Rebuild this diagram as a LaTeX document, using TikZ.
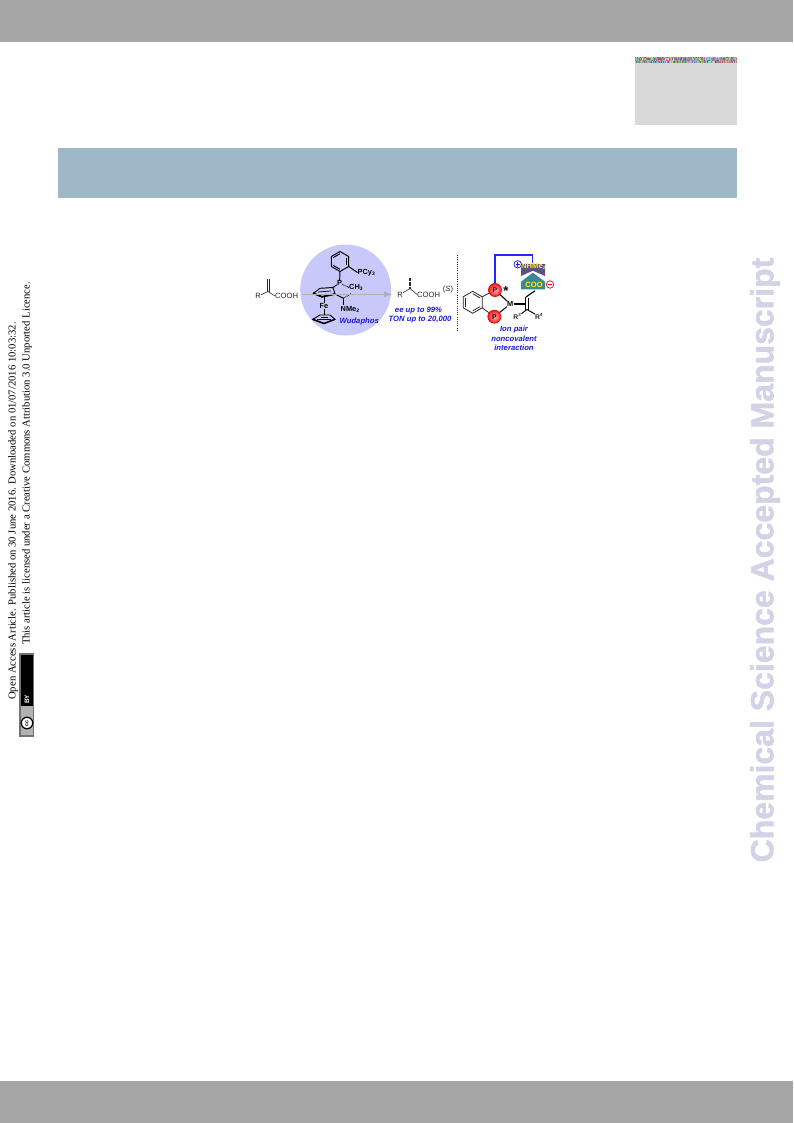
\documentclass[tikz,border=0pt]{standalone}
\usepackage{fontspec}
\setmainfont{Liberation Sans}
\newfontfamily\serifside{Liberation Serif}
\newfontfamily\wmfont[UprightFont=*,BoldFeatures={FakeBold=1.6}]{Liberation Sans}
\usetikzlibrary{arrows.meta,shapes.geometric}
\definecolor{barg}{HTML}{A6A6A6}
\definecolor{boxg}{HTML}{D9D9D9}
\definecolor{bandb}{HTML}{9FB8C7}
\definecolor{wmark}{HTML}{D3D3E7}
\definecolor{halo}{HTML}{C8C8FA}
\definecolor{chemblue}{HTML}{1A1AE6}
\definecolor{purp}{HTML}{5B4F8C}
\definecolor{teal2}{HTML}{3A8798}
\tikzset{
  atom/.style={inner sep=0pt,font=\fontsize{7.6}{8}\selectfont,text=black!85},
  batom/.style={inner sep=0pt,font=\bfseries\fontsize{7.4}{8}\selectfont},
  bond/.style={line width=0.6pt,black!85},
  hbond/.style={line width=0.95pt,black},
  hash/.style={line width=1.2pt,black,dash pattern=on 0.5pt off 0.9pt},
  note/.style={inner sep=0pt,align=center,text=chemblue,font=\bfseries\itshape\fontsize{7.7}{8.4}\selectfont},
  side/.style={inner sep=0pt,rotate=90,font=\serifside\fontsize{10.65}{11}\selectfont},
  redp/.style={circle,draw=red!90!black,line width=0.7pt,minimum size=13pt,inner sep=0pt,
    inner color=red!30,outer color=red!90},
  signc/.style={circle,draw,line width=0.7pt,minimum size=7.5pt,inner sep=0pt},
}
\begin{document}
\begin{tikzpicture}[x=1pt,y=-1pt]
\useasboundingbox (0,0) rectangle (793,1123);
% page furniture
\fill[barg] (0,0) rectangle (793,42);
\fill[barg] (0,1081) rectangle (793,1123);
\fill[boxg] (635,57) rectangle (737,125);
\pgfmathsetseed{7}
\foreach \i in {0,...,101}{
  \foreach \j in {0,1,2,3}{
    \pgfmathsetmacro{\ra}{int(random(0,100))}
    \pgfmathsetmacro{\rb}{int(random(0,100))}
    \pgfmathsetmacro{\rc}{int(random(0,100))}
    \definecolor{nz}{RGB}{\the\numexpr 90+\ra*13/10\relax,\the\numexpr 90+\rb*13/10\relax,\the\numexpr 90+\rc*13/10\relax}
    \fill[nz] (635+\i,57+1.4*\j) rectangle ++(1,1.4);
  }
}
\fill[bandb] (58,148) rectangle (737,198);
% watermark
\node[inner sep=0pt,rotate=90,text=wmark,font=\wmfont\bfseries\fontsize{32}{36}\selectfont] (wm) at (765,560) {Chemical Science Accepted Manuscript};
% side text
\node[side] (s1) at (13,511) {Open Access Article. Published on 30 June 2016. Downloaded on 01/07/2016 10:03:32.};
\node[side] (s2) at (27,463.5) {This article is licensed under a Creative Commons Attribution 3.0 Unported Licence.};
% cc badge
\fill[black!55] (19.3,652.7) rectangle (34.3,736.5);
\fill[black] (21,654.5) rectangle (32.8,706);
\fill[black!30] (21,706) rectangle (32.8,734.5);
\node[circle,draw=black,fill=white,line width=1.3pt,minimum size=11.5pt,inner sep=0pt,rotate=90,font=\bfseries\fontsize{5.4}{6}\selectfont] (cc) at (27,723) {cc};
\node[inner sep=0pt,rotate=90,text=white,font=\bfseries\fontsize{6.4}{7}\selectfont] (by) at (27,699.5) {BY};
% halo
\fill[halo] (345.7,290) circle (45.5);
% substrate
\node[atom] (r1) at (258,296) {R};
\node[atom,anchor=west] (cooh1) at (275,296) {COOH};
\coordinate (c1) at (268,291.5);
\coordinate (ch1) at (268,279);
\draw[bond] (r1) -- (c1) -- (cooh1.west);
\draw[bond] (267.1,291.5) -- (267.1,279) (268.9,291.5) -- (268.9,279);
% benzene of ligand
\foreach \a in {90,150,...,390}{\coordinate (lb\a) at ({340+10*cos(\a)},{261.5-10*sin(\a)});}
\draw[hbond] (lb90) -- (lb150) -- (lb210) -- (lb270) -- (lb330) -- (lb390) -- cycle;
\draw[hbond] ({340+7.8*cos(150)},{261.5-7.8*sin(150)}) -- ({340+7.8*cos(90)},{261.5-7.8*sin(90)});
\draw[hbond] ({340+7.8*cos(30)},{261.5-7.8*sin(30)}) -- ({340+7.8*cos(330)},{261.5-7.8*sin(330)});
\draw[hbond] ({340+7.8*cos(270)},{261.5-7.8*sin(270)}) -- ({340+7.8*cos(210)},{261.5-7.8*sin(210)});
\node[batom] (p0) at (339.5,283) {P};
\draw[hbond] (lb270) -- (p0);
\node[batom,anchor=west] (pcy) at (357.5,272.5) {PCy\textsubscript{\fontsize{5}{5}\selectfont 3}};
\draw[hbond] (lb330) -- (pcy.west);
\node[batom,anchor=west] (ch3) at (349,287.5) {CH\textsubscript{\fontsize{5}{5}\selectfont 3}};
\draw[hash] (p0) -- (ch3.west);
% upper Cp
\coordinate (cpa) at (313.3,293.3);
\coordinate (cpb) at (320,288.3);
\coordinate (cpc) at (333,287.5);
\coordinate (cpd) at (335,294);
\coordinate (cpe) at (322,296.8);
\draw[hbond] (cpa) -- (cpb) -- (cpc) -- (cpd) -- (cpe) -- cycle;
\draw[line width=1.7pt] (cpa) -- (cpe) -- (cpd);
\draw[line width=0.7pt] (318,292) -- (331,291);
\draw[hbond] (cpc) -- (p0);
% side chain
\coordinate (cs) at (343.3,298.3);
\draw[hbond] (cpd) -- (cs);
\draw[hash] (cs) -- (351.7,293.3);
\node[batom,anchor=west] (nme) at (340.5,309.3) {NMe\textsubscript{\fontsize{5}{5}\selectfont 2}};
\draw[hbond] (cs) -- (343.3,305);
\node[batom] (fe) at (324,306) {Fe};
\draw[hbond] (fe) -- (324,297);
\draw[hbond] (fe) -- (324,315);
% lower Cp
\coordinate (la) at (312.7,319.3);
\coordinate (lb) at (320,315);
\coordinate (lc) at (330,315);
\coordinate (ld) at (335,319.3);
\coordinate (le) at (324,323.5);
\draw[hbond] (la) -- (lb) -- (lc) -- (ld) -- (le) -- cycle;
\draw[line width=1.4pt] (la) -- (le) -- (ld);
\draw[line width=0.5pt] (317,319.3) -- (331,319.3) (321,317) -- (328,317);
\node[note] (wu) at (359.3,321.7) {Wudaphos};
% arrow
\coordinate (as) at (301.5,294.3);
\coordinate (ae) at (392,294.3);
\draw[barg!90!white,line width=0.7pt,-{Latex[length=8pt,width=6pt]}] (as) -- (ae);
% product
\node[atom] (r2) at (400,294.5) {R};
\node[atom,anchor=west] (cooh2) at (417,294.5) {COOH};
\coordinate (c2) at (410,288.5);
\coordinate (me2) at (410,277);
\draw[bond] (r2) -- (c2) -- (cooh2.west);
\draw[line width=1.2pt,black!85,dash pattern=on 0.5pt off 0.8pt] (c2) -- (me2);
\node[atom] (s) at (448,289.5) {(\textit{S})};
\node[note] (ee) at (418.5,310.3) {ee up to 99\%};
\node[note] (ton) at (420,319.5) {TON up to 20,000};
% divider
\coordinate (d1) at (457.5,255);
\coordinate (d2) at (457.5,332);
\draw[line width=0.8pt,black!80,dash pattern=on 1pt off 1.2pt] (d1) -- (d2);
% model: ion pair
\fill[purp] (521,264) -- (545,264) -- (545,276) -- (532.9,270.7) -- (521,276) -- cycle;
\fill[teal2] (521,289.3) -- (521,281.7) -- (532.9,272.7) -- (545,281.7) -- (545,289.3) -- cycle;
\node[redp] (p1) at (495,290) {};
\node[redp] (p2) at (494.3,316.7) {};
\node[batom,font=\bfseries\fontsize{6.8}{7}\selectfont] (pt1) at (p1) {P};
\node[batom,font=\bfseries\fontsize{6.8}{7}\selectfont] (pt2) at (p2) {P};
\coordinate (tb1) at (494.3,255);
\coordinate (tb2) at (532.7,255);
\coordinate (tb3) at (532.7,263);
\draw[blue!85!white,line width=1.05pt] (p1.north) -- (p1.north |- tb1) -- (tb2) -- (tb3);
% model benzene
\foreach \a in {30,90,...,330}{\coordinate (mb\a) at ({472.7+11*cos(\a)},{302.3-11*sin(\a)});}
\draw[bond,line width=0.8pt] (mb30) -- (mb90) -- (mb150) -- (mb210) -- (mb270) -- (mb330) -- cycle;
\draw[bond,line width=0.8pt] ({472.7+8.6*cos(90)},{302.3-8.6*sin(90)}) -- ({472.7+8.6*cos(30)},{302.3-8.6*sin(30)});
\draw[bond,line width=0.8pt] ({472.7+8.6*cos(150)},{302.3-8.6*sin(150)}) -- ({472.7+8.6*cos(210)},{302.3-8.6*sin(210)});
\draw[bond,line width=0.8pt] ({472.7+8.6*cos(270)},{302.3-8.6*sin(270)}) -- ({472.7+8.6*cos(330)},{302.3-8.6*sin(330)});
\draw[bond,line width=0.8pt] (mb30) -- (p1);
\draw[bond,line width=0.8pt] (mb330) -- (p2);
\node[batom] (m) at (510.3,304) {M};
\draw[hbond,line width=1.05pt] (p1) -- (m);
\draw[hbond,line width=1.05pt] (p2) -- (m);
\node[inner sep=0pt,font=\bfseries\fontsize{13}{13}\selectfont] (st) at (506,291.5) {*};
\coordinate (cc1) at (526,297);
\coordinate (cc2) at (527,309.5);
\coordinate (coob) at (535,290.7);
\draw[hbond,line width=1.1pt] (m) -- (525,304);
\draw[hbond,line width=1.1pt] (coob) -- (cc1);
\draw[hbond,line width=1pt] (525.7,297) -- (525.7,309.5) (528.8,298) -- (528.8,309.5);
\node[atom,font=\bfseries\fontsize{6.8}{7}\selectfont] (r3) at (517.3,316.7) {R\textsuperscript{\fontsize{4.5}{4}\selectfont 3}};
\node[atom,font=\bfseries\fontsize{6.8}{7}\selectfont] (r4) at (539,316.5) {R\textsuperscript{\fontsize{4.5}{4}\selectfont 4}};
\draw[hbond] (cc2) -- (r3);
\draw[hbond] (cc2) -- (r4);
\node[batom,text=yellow,font=\bfseries\fontsize{7.6}{7}\selectfont] (nh) at (533.5,266.5) {NHMe\textsubscript{\fontsize{4.5}{4}\selectfont 2}};
\node[batom,text=yellow,font=\bfseries\fontsize{7.6}{7}\selectfont] (coo) at (534,285.3) {COO};
\node[signc,draw=chemblue] (plus) at (517.7,264.3) {};
\draw[chemblue,line width=0.7pt] ([xshift=-2.2pt]plus.center) -- ([xshift=2.2pt]plus.center)
  ([yshift=-2.2pt]plus.center) -- ([yshift=2.2pt]plus.center);
\node[signc,draw=red] (minus) at (550,284.5) {};
\draw[red,line width=0.8pt] ([xshift=-2.2pt]minus.center) -- ([xshift=2.2pt]minus.center);
\node[note] (ion) at (514,330) {Ion pair};
\node[note] (nc) at (514,338.7) {noncovalent};
\node[note] (int) at (514,347.7) {interaction};
\end{tikzpicture}
\end{document}
